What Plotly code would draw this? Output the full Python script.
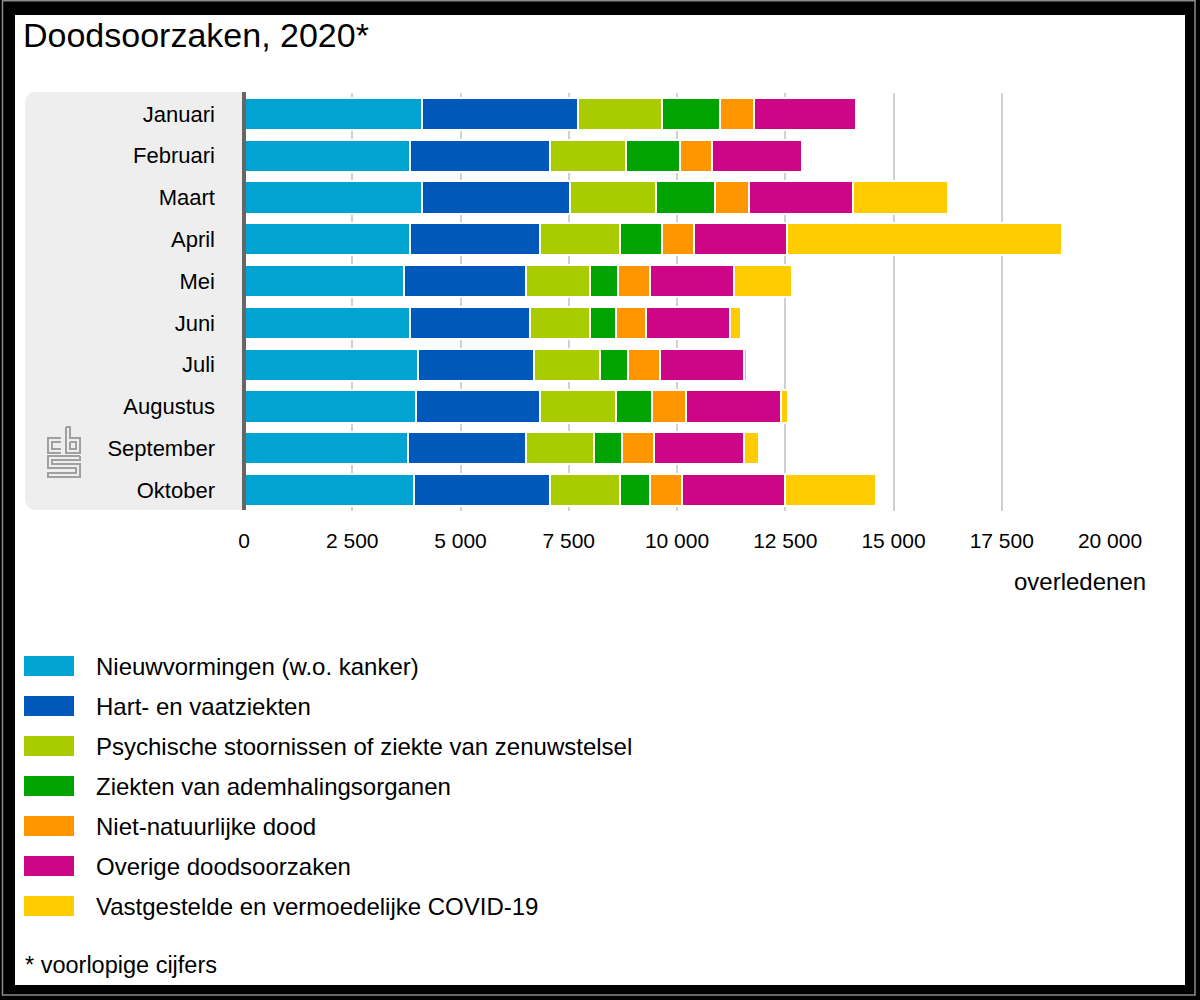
import plotly.graph_objects as go

# ---------------- data ----------------
months = ["Januari", "Februari", "Maart", "April", "Mei", "Juni",
          "Juli", "Augustus", "September", "Oktober"]

series_names = [
    "Nieuwvormingen (w.o. kanker)",
    "Hart- en vaatziekten",
    "Psychische stoornissen of ziekte van zenuwstelsel",
    "Ziekten van ademhalingsorganen",
    "Niet-natuurlijke dood",
    "Overige doodsoorzaken",
    "Vastgestelde en vermoedelijke COVID-19",
]

nieuwvormingen = [4104, 3826, 4104, 3826, 3687, 3826, 4012, 3965, 3780, 3919]
hart_vaat      = [3611, 3241, 3426, 3010, 2825, 2778, 2685, 2871, 2732, 3148]
psychisch      = [1945, 1759, 1991, 1851, 1481, 1389, 1528, 1759, 1574, 1620]
ademhaling     = [1342, 1250, 1345,  973,  648,  602,  648,  833,  648,  695]
niet_natuurl   = [ 787,  741,  787,  740,  741,  694,  740,  787,  741,  741]
overige        = [2338, 2060, 2405, 2130, 1944, 1945, 1945, 2176, 2083, 2361]
covid          = [   0,    0, 2199, 6366, 1320,  254,   69,  162,  347, 2106]

series_values = [nieuwvormingen, hart_vaat, psychisch, ademhaling,
                 niet_natuurl, overige, covid]

x_ticks = [0, 2500, 5000, 7500, 10000, 12500, 15000, 17500, 20000]

colors = ["#00A3D2", "#0059BA", "#A9CC00", "#00A300", "#FF9600", "#CC0686", "#FFCC00"]

# ---------------- layout geometry ----------------
W, H = 1200, 1000
L, R, T, B = 244, 90, 93, 489
PW = W - L - R
PH = H - T - B
FONT = "Liberation Sans, Arial, sans-serif"


def xp(px):
    return (px - L) / PW


def yp(py):
    return (H - B - py) / PH


fig = go.Figure()
for name, vals, col in zip(series_names, series_values, colors):
    fig.add_trace(go.Bar(
        y=months, x=vals, name=name, orientation="h",
        marker=dict(color=col, line=dict(color="white", width=2)),
        showlegend=False,
        hovertemplate="%{y}: %{x}<extra>" + name + "</extra>",
    ))

shapes = []
# black frame with white page
shapes.append(dict(type="rect", xref="paper", yref="paper",
                   x0=xp(15), x1=xp(1185), y0=yp(985), y1=yp(15),
                   fillcolor="white", line=dict(width=0), layer="below"))
shapes.append(dict(type="rect", xref="paper", yref="paper",
                   x0=xp(2.5), x1=xp(1195), y0=yp(995), y1=yp(0.8),
                   fillcolor="rgba(0,0,0,0)", line=dict(color="#8a8a8a", width=1.5),
                   layer="below"))

# grey category panel with rounded left corners
r = 12
x0p, x1p, y0p, y1p = 25, 244, 92, 510
path = (f"M {xp(x1p)},{yp(y0p)} L {xp(x0p + r)},{yp(y0p)} "
        f"Q {xp(x0p)},{yp(y0p)} {xp(x0p)},{yp(y0p + r)} "
        f"L {xp(x0p)},{yp(y1p - r)} "
        f"Q {xp(x0p)},{yp(y1p)} {xp(x0p + r)},{yp(y1p)} "
        f"L {xp(x1p)},{yp(y1p)} Z")
shapes.append(dict(type="path", xref="paper", yref="paper", path=path,
                   fillcolor="#EEEEEE", line=dict(width=0), layer="below"))

# axis line
shapes.append(dict(type="line", xref="paper", yref="paper",
                   x0=0, x1=0, y0=yp(510), y1=yp(92),
                   line=dict(color="#666666", width=4), layer="above"))


# CBS logo (outline)
def pp(points):
    s = ""
    for i, (a, b) in enumerate(points):
        s += ("M " if i == 0 else "L ") + f"{xp(a)},{yp(b)} "
    return s


logo_col = "#A0A0A0"
logo_paths = [
    pp([(61, 438), (48, 438), (48, 453), (61, 453)]),
    pp([(61, 442), (52, 442), (52, 449), (61, 449)]),
    pp([(66, 427), (66, 453), (80, 453), (80, 438), (70, 438), (70, 427), (66, 427)]),
    pp([(70, 442), (76, 442), (76, 449), (70, 449), (70, 442)]),
    pp([(80, 456), (48, 456), (48, 468), (76, 468), (76, 473), (48, 473),
        (48, 477), (80, 477), (80, 464), (52, 464), (52, 460), (80, 460), (80, 456)]),
]
for p in logo_paths:
    shapes.append(dict(type="path", xref="paper", yref="paper", path=p,
                       line=dict(color=logo_col, width=2), layer="below"))

annotations = []
# legend (manual)
for i, (name, col) in enumerate(zip(series_names, colors)):
    cy = 666 + 40 * i
    shapes.append(dict(type="rect", xref="paper", yref="paper",
                       x0=xp(24), x1=xp(74), y0=yp(cy + 10), y1=yp(cy - 10),
                       fillcolor=col, line=dict(width=0)))
    annotations.append(dict(xref="paper", yref="paper", x=xp(94), y=yp(cy),
                            text=name, showarrow=False, xanchor="left",
                            yanchor="middle",
                            font=dict(family=FONT, size=24, color="#000")))

# axis title
annotations.append(dict(xref="paper", yref="paper", x=xp(1148), y=yp(581),
                        text="overledenen", showarrow=False, xanchor="right",
                        yanchor="middle",
                        font=dict(family=FONT, size=24, color="#000")))
# footnote
annotations.append(dict(xref="paper", yref="paper", x=xp(23), y=yp(965),
                        text="* voorlopige cijfers", showarrow=False,
                        xanchor="left", yanchor="middle",
                        font=dict(family=FONT, size=23.5, color="#000")))

fig.update_layout(
    width=W, height=H,
    margin=dict(l=L, r=R, t=T, b=B, pad=0),
    paper_bgcolor="black", plot_bgcolor="white",
    barmode="stack", bargap=0.234,
    separators=", ",
    font=dict(family=FONT, color="#000"),
    title=dict(text="Doodsoorzaken, 2020*", x=23 / W, xanchor="left",
               y=1 - 35 / H, yanchor="middle", xref="container", yref="container",
               font=dict(family=FONT, size=34, color="#000")),
    shapes=shapes, annotations=annotations,
    xaxis=dict(range=[0, 20000], tickvals=x_ticks, tickformat=",d",
               showgrid=True, gridcolor="#D0D0D0", gridwidth=1.5,
               zeroline=False, showline=False, ticks="",
               ticklabelstandoff=15,
               tickfont=dict(family=FONT, size=21, color="#000")),
    yaxis=dict(categoryorder="array", categoryarray=months,
               autorange="reversed", showgrid=False, zeroline=False,
               showline=False, ticks="", ticklabelstandoff=28,
               tickfont=dict(family=FONT, size=22, color="#000")),
)

fig.write_html("out.html",
               config={"displayModeBar": False},
               post_script="document.body.style.margin='0';"
                           "document.body.style.overflow='hidden';")
